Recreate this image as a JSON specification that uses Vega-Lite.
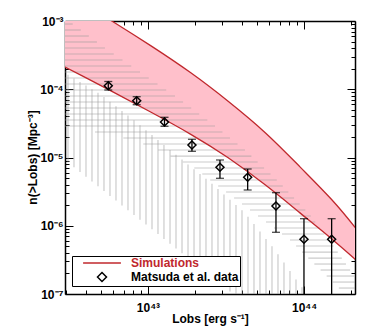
{
  "$schema": "https://vega.github.io/schema/vega-lite/v6.json",
  "width": 290,
  "height": 273,
  "autosize": "none",
  "padding": {"left": 65, "top": 21, "right": 19, "bottom": 42},
  "background": "white",
  "config": {"view": {"stroke": null}, "font": "Liberation Sans"},
  "datasets": {
    "band": [
      {"L": 2.189e42, "upper": 3.99e-3, "lower": 2.968e-4},
      {"L": 2.94e42, "upper": 2.66e-3, "lower": 2.118e-4},
      {"L": 3.948e42, "upper": 1.745e-3, "lower": 1.497e-4},
      {"L": 5.88e42, "upper": 1.0e-3, "lower": 9.30e-5},
      {"L": 1.03e43, "upper": 4.45e-4, "lower": 4.705e-5},
      {"L": 1.913e43, "upper": 1.73e-4, "lower": 2.173e-5},
      {"L": 3.207e43, "upper": 6.958e-5, "lower": 1.041e-5},
      {"L": 5.784e43, "upper": 2.286e-5, "lower": 3.862e-6},
      {"L": 9.413e43, "upper": 7.257e-6, "lower": 1.538e-6},
      {"L": 1.532e44, "upper": 2.384e-6, "lower": 6.268e-7},
      {"L": 2.12e44, "upper": 9.588e-7, "lower": 3.257e-7},
      {"L": 3.064e44, "upper": 3.2e-7, "lower": 1.525e-7}
    ],
    "hlines": [
      {"n": 9.037e-4, "L1": 2.94e42, "L2": 3.293e42},
      {"n": 7.381e-4, "L1": 2.94e42, "L2": 3.711e42},
      {"n": 6.028e-4, "L1": 2.94e42, "L2": 4.177e42},
      {"n": 4.924e-4, "L1": 2.94e42, "L2": 4.707e42},
      {"n": 4.022e-4, "L1": 2.94e42, "L2": 5.303e42},
      {"n": 3.285e-4, "L1": 2.94e42, "L2": 6.033e42},
      {"n": 2.683e-4, "L1": 2.94e42, "L2": 6.866e42},
      {"n": 2.191e-4, "L1": 2.94e42, "L2": 7.81e42},
      {"n": 1.79e-4, "L1": 2.94e42, "L2": 8.887e42},
      {"n": 1.462e-4, "L1": 2.94e42, "L2": 1.011e43},
      {"n": 1.194e-4, "L1": 2.94e42, "L2": 1.1505e43},
      {"n": 9.75e-5, "L1": 2.94e42, "L2": 1.309e43},
      {"n": 7.963e-5, "L1": 2.94e42, "L2": 1.49e43},
      {"n": 6.503e-5, "L1": 2.94e42, "L2": 1.678e43},
      {"n": 5.311e-5, "L1": 2.94e42, "L2": 1.891e43},
      {"n": 4.338e-5, "L1": 2.94e42, "L2": 2.128e43},
      {"n": 3.543e-5, "L1": 2.94e42, "L2": 2.399e43},
      {"n": 2.893e-5, "L1": 2.94e42, "L2": 2.687e43},
      {"n": 2.363e-5, "L1": 4.576e42, "L2": 3.001e43},
      {"n": 1.93e-5, "L1": 6.948e42, "L2": 3.352e43},
      {"n": 1.576e-5, "L1": 9.331e42, "L2": 3.745e43},
      {"n": 1.287e-5, "L1": 1.1625e43, "L2": 4.182e43},
      {"n": 1.051e-5, "L1": 1.3936e43, "L2": 4.597e43},
      {"n": 8.59e-6, "L1": 1.671e43, "L2": 5.044e43},
      {"n": 7.016e-6, "L1": 1.98e43, "L2": 5.543e43},
      {"n": 5.73e-6, "L1": 2.228e43, "L2": 6.093e43},
      {"n": 4.68e-6, "L1": 2.503e43, "L2": 6.685e43},
      {"n": 3.822e-6, "L1": 2.816e43, "L2": 7.304e43},
      {"n": 3.121e-6, "L1": 3.164e43, "L2": 7.932e43},
      {"n": 2.549e-6, "L1": 3.561e43, "L2": 8.63e43},
      {"n": 2.082e-6, "L1": 4.001e43, "L2": 9.372e43},
      {"n": 1.7e-6, "L1": 4.502e43, "L2": 1.018e44},
      {"n": 1.389e-6, "L1": 5.067e43, "L2": 1.104e44},
      {"n": 1.134e-6, "L1": 5.702e43, "L2": 1.18e44},
      {"n": 9.263e-7, "L1": 6.415e43, "L2": 1.261e44},
      {"n": 7.565e-7, "L1": 7.217e43, "L2": 1.349e44},
      {"n": 6.178e-7, "L1": 8.121e43, "L2": 1.442e44},
      {"n": 5.046e-7, "L1": 8.887e43, "L2": 1.543e44},
      {"n": 4.121e-7, "L1": 9.723e43, "L2": 1.644e44},
      {"n": 3.365e-7, "L1": 1.064e44, "L2": 1.746e44},
      {"n": 2.749e-7, "L1": 1.164e44, "L2": 1.855e44},
      {"n": 2.245e-7, "L1": 1.276e44, "L2": 1.973e44},
      {"n": 1.833e-7, "L1": 1.396e44, "L2": 2.097e44},
      {"n": 1.497e-7, "L1": 1.528e44, "L2": 2.12e44},
      {"n": 1.223e-7, "L1": 1.671e44, "L2": 2.12e44}
    ],
    "vlines": [
      {"L": 3.073e42, "n1": 1.628e-4, "n2": 8.477e-6},
      {"L": 3.357e42, "n1": 1.4425e-4, "n2": 7.209e-6},
      {"L": 3.668e42, "n1": 1.277e-4, "n2": 6.13e-6},
      {"L": 4.007e42, "n1": 1.131e-4, "n2": 5.233e-6},
      {"L": 4.378e42, "n1": 1.0017e-4, "n2": 4.45e-6},
      {"L": 4.783e42, "n1": 8.872e-5, "n2": 3.784e-6},
      {"L": 5.226e42, "n1": 7.673e-5, "n2": 3.219e-6},
      {"L": 5.709e42, "n1": 6.571e-5, "n2": 2.738e-6},
      {"L": 6.237e42, "n1": 5.625e-5, "n2": 2.336e-6},
      {"L": 6.815e42, "n1": 4.817e-5, "n2": 1.987e-6},
      {"L": 7.445e42, "n1": 4.125e-5, "n2": 1.69e-6},
      {"L": 8.135e42, "n1": 3.508e-5, "n2": 1.438e-6},
      {"L": 8.887e42, "n1": 2.968e-5, "n2": 1.222e-6},
      {"L": 9.711e42, "n1": 2.512e-5, "n2": 1.04e-6},
      {"L": 1.061e43, "n1": 2.129e-5, "n2": 8.872e-7},
      {"L": 1.159e43, "n1": 1.798e-5, "n2": 7.545e-7},
      {"L": 1.266e43, "n1": 1.525e-5, "n2": 6.417e-7},
      {"L": 1.384e43, "n1": 1.288e-5, "n2": 5.457e-7},
      {"L": 1.512e43, "n1": 1.095e-5, "n2": 4.642e-7},
      {"L": 1.652e43, "n1": 9.317e-6, "n2": 3.961e-7},
      {"L": 1.805e43, "n1": 7.923e-6, "n2": 3.369e-7},
      {"L": 1.972e43, "n1": 6.739e-6, "n2": 2.866e-7},
      {"L": 2.154e43, "n1": 5.731e-6, "n2": 2.437e-7},
      {"L": 2.353e43, "n1": 4.874e-6, "n2": 2.073e-7},
      {"L": 2.571e43, "n1": 4.118e-6, "n2": 1.768e-7},
      {"L": 2.809e43, "n1": 3.443e-6, "n2": 1.504e-7},
      {"L": 3.069e43, "n1": 2.879e-6, "n2": 1.279e-7},
      {"L": 3.353e43, "n1": 2.409e-6, "n2": 1.088e-7},
      {"L": 3.663e43, "n1": 2.014e-6, "n2": 1e-7},
      {"L": 4.002e43, "n1": 1.684e-6, "n2": 1e-7},
      {"L": 4.373e43, "n1": 1.357e-6, "n2": 1e-7},
      {"L": 4.777e43, "n1": 1.057e-6, "n2": 1e-7},
      {"L": 5.219e43, "n1": 8.236e-7, "n2": 1e-7},
      {"L": 5.703e43, "n1": 6.417e-7, "n2": 1e-7},
      {"L": 6.23e43, "n1": 5.0e-7, "n2": 1e-7},
      {"L": 6.807e43, "n1": 3.829e-7, "n2": 1e-7},
      {"L": 7.436e43, "n1": 2.884e-7, "n2": 1e-7},
      {"L": 8.125e43, "n1": 2.172e-7, "n2": 1e-7},
      {"L": 8.877e43, "n1": 1.637e-7, "n2": 1e-7},
      {"L": 9.7e43, "n1": 1.256e-7, "n2": 1e-7}
    ],
    "points": [
      {"L": 5.567e42, "n": 1.127e-4, "hi": 1.299e-4, "lo": 9.75e-5, "series": "Matsuda et al. data"},
      {"L": 8.465e42, "n": 6.797e-5, "hi": 7.777e-5, "lo": 5.937e-5, "series": "Matsuda et al. data"},
      {"L": 1.276e43, "n": 3.312e-5, "hi": 3.882e-5, "lo": 2.866e-5, "series": "Matsuda et al. data"},
      {"L": 1.913e43, "n": 1.525e-5, "hi": 1.848e-5, "lo": 1.232e-5, "series": "Matsuda et al. data"},
      {"L": 2.892e43, "n": 7.184e-6, "hi": 9.192e-6, "lo": 4.957e-6, "series": "Matsuda et al. data"},
      {"L": 4.352e43, "n": 5.127e-6, "hi": 6.783e-6, "lo": 3.341e-6, "series": "Matsuda et al. data"},
      {"L": 6.607e43, "n": 1.947e-6, "hi": 3.05e-6, "lo": 8.017e-7, "series": "Matsuda et al. data"},
      {"L": 9.986e43, "n": 6.331e-7, "hi": 1.269e-6, "lo": 1e-8, "series": "Matsuda et al. data"},
      {"L": 1.502e44, "n": 6.331e-7, "hi": 1.269e-6, "lo": 1e-8, "series": "Matsuda et al. data"}
    ]
  },
  "resolve": {"axis": {"x": "independent", "y": "independent"}},
  "layer": [
    {
      "data": {"name": "band"},
      "mark": {"type": "area", "color": "#ffc0cb", "opacity": 1, "clip": true, "interpolate": "basis"},
      "encoding": {
        "x": {"field": "L", "type": "quantitative", "scale": {"type": "log", "domain": [2.94e42, 2.12e44], "nice": false},
          "axis": {"orient": "top", "title": null, "labels": false, "grid": false,
            "values": [3e42,4e42,5e42,6e42,7e42,8e42,9e42,1e43,2e43,3e43,4e43,5e43,6e43,7e43,8e43,9e43,1e44,2e44],
            "tickSize": {"condition": {"test": "datum.value == 1e43 || datum.value == 1e44", "value": -8}, "value": -4},
            "tickColor": "black", "tickWidth": 1, "domainColor": "black", "domainWidth": 1.5}},
        "y": {"field": "upper", "type": "quantitative", "scale": {"type": "log", "domain": [1e-7, 1e-3], "nice": false},
          "axis": {"orient": "right", "title": null, "labels": false, "grid": false,
            "values": [1e-7,2e-7,3e-7,4e-7,5e-7,6e-7,7e-7,8e-7,9e-7,1e-6,2e-6,3e-6,4e-6,5e-6,6e-6,7e-6,8e-6,9e-6,1e-5,2e-5,3e-5,4e-5,5e-5,6e-5,7e-5,8e-5,9e-5,1e-4,2e-4,3e-4,4e-4,5e-4,6e-4,7e-4,8e-4,9e-4,1e-3],
            "tickSize": {"condition": {"test": "datum.value == 1e-3 || datum.value == 1e-4 || datum.value == 1e-5 || datum.value == 1e-6 || datum.value == 1e-7", "value": -8}, "value": -4},
            "tickColor": "black", "tickWidth": 1, "domainColor": "black", "domainWidth": 1.5}},
        "y2": {"field": "lower"}
      }
    },
    {
      "data": {"name": "hlines"},
      "mark": {"type": "rule", "color": "#999999", "opacity": 0.5, "strokeWidth": 1.2, "clip": true},
      "encoding": {
        "x": {"field": "L1", "type": "quantitative", "scale": {"type": "log", "domain": [2.94e42, 2.12e44], "nice": false}, "axis": null},
        "x2": {"field": "L2"},
        "y": {"field": "n", "type": "quantitative", "scale": {"type": "log", "domain": [1e-7, 1e-3], "nice": false}, "axis": null}
      }
    },
    {
      "data": {"name": "vlines"},
      "mark": {"type": "rule", "color": "#999999", "opacity": 0.5, "strokeWidth": 1.2, "clip": true},
      "encoding": {
        "x": {"field": "L", "type": "quantitative", "scale": {"type": "log", "domain": [2.94e42, 2.12e44], "nice": false}, "axis": null},
        "y": {"field": "n1", "type": "quantitative", "scale": {"type": "log", "domain": [1e-7, 1e-3], "nice": false}, "axis": null},
        "y2": {"field": "n2"}
      }
    },
    {
      "data": {"name": "band"},
      "mark": {"type": "line", "color": "#c0282d", "strokeWidth": 1.3, "clip": true, "interpolate": "basis"},
      "encoding": {
        "x": {"field": "L", "type": "quantitative", "scale": {"type": "log", "domain": [2.94e42, 2.12e44], "nice": false}, "axis": null},
        "y": {"field": "upper", "type": "quantitative", "scale": {"type": "log", "domain": [1e-7, 1e-3], "nice": false}, "axis": null}
      }
    },
    {
      "data": {"name": "band"},
      "mark": {"type": "line", "color": "#c0282d", "strokeWidth": 1.3, "clip": true, "interpolate": "basis"},
      "encoding": {
        "x": {"field": "L", "type": "quantitative", "scale": {"type": "log", "domain": [2.94e42, 2.12e44], "nice": false}, "axis": null},
        "y": {"field": "lower", "type": "quantitative", "scale": {"type": "log", "domain": [1e-7, 1e-3], "nice": false}, "axis": null}
      }
    },
    {
      "data": {"name": "points"},
      "mark": {"type": "rule", "color": "black", "strokeWidth": 1.3, "clip": true},
      "encoding": {
        "x": {"field": "L", "type": "quantitative", "scale": {"type": "log", "domain": [2.94e42, 2.12e44], "nice": false}, "axis": null},
        "y": {"field": "hi", "type": "quantitative", "scale": {"type": "log", "domain": [1e-7, 1e-3], "nice": false}, "axis": null},
        "y2": {"field": "lo"}
      }
    },
    {
      "data": {"name": "points"},
      "mark": {"type": "tick", "orient": "horizontal", "color": "black", "size": 8, "thickness": 1.3, "clip": true},
      "encoding": {
        "x": {"field": "L", "type": "quantitative", "scale": {"type": "log", "domain": [2.94e42, 2.12e44], "nice": false}, "axis": null},
        "y": {"field": "hi", "type": "quantitative", "scale": {"type": "log", "domain": [1e-7, 1e-3], "nice": false}, "axis": null}
      }
    },
    {
      "data": {"name": "points"},
      "mark": {"type": "tick", "orient": "horizontal", "color": "black", "size": 8, "thickness": 1.3, "clip": true},
      "encoding": {
        "x": {"field": "L", "type": "quantitative", "scale": {"type": "log", "domain": [2.94e42, 2.12e44], "nice": false}, "axis": null},
        "y": {"field": "lo", "type": "quantitative", "scale": {"type": "log", "domain": [1e-7, 1e-3], "nice": false}, "axis": null}
      }
    },
    {
      "data": {"name": "points"},
      "mark": {"type": "point", "filled": false, "size": 64, "strokeWidth": 1.5, "opacity": 1},
      "encoding": {
        "x": {"field": "L", "type": "quantitative", "scale": {"type": "log", "domain": [2.94e42, 2.12e44], "nice": false},
          "axis": {"orient": "bottom", "grid": false,
            "values": [3e42,4e42,5e42,6e42,7e42,8e42,9e42,1e43,2e43,3e43,4e43,5e43,6e43,7e43,8e43,9e43,1e44,2e44],
            "labelExpr": "datum.value == 1e43 ? '10⁴³' : datum.value == 1e44 ? '10⁴⁴' : ''",
            "tickSize": {"condition": {"test": "datum.value == 1e43 || datum.value == 1e44", "value": -8}, "value": -4},
            "tickColor": "black", "tickWidth": 1, "domainColor": "black", "domainWidth": 1.5,
            "labelFont": "Liberation Sans", "labelFontWeight": "bold", "labelFontSize": 12, "labelColor": "black",
            "labelPadding": 16, "labelFlush": false, "labelOverlap": false,
            "title": "Lobs [erg s⁻¹]", "titleFont": "Liberation Sans", "titleFontWeight": "bold", "titleFontSize": 12, "titleColor": "black",
            "titleX": 145, "titleY": 24, "titleBaseline": "middle", "titleAlign": "center"}},
        "y": {"field": "n", "type": "quantitative", "scale": {"type": "log", "domain": [1e-7, 1e-3], "nice": false},
          "axis": {"orient": "left", "grid": false,
            "values": [1e-7,2e-7,3e-7,4e-7,5e-7,6e-7,7e-7,8e-7,9e-7,1e-6,2e-6,3e-6,4e-6,5e-6,6e-6,7e-6,8e-6,9e-6,1e-5,2e-5,3e-5,4e-5,5e-5,6e-5,7e-5,8e-5,9e-5,1e-4,2e-4,3e-4,4e-4,5e-4,6e-4,7e-4,8e-4,9e-4,1e-3],
            "labelExpr": "datum.value == 1e-3 ? '10⁻³' : datum.value == 1e-4 ? '10⁻⁴' : datum.value == 1e-5 ? '10⁻⁵' : datum.value == 1e-6 ? '10⁻⁶' : datum.value == 1e-7 ? '10⁻⁷' : ''",
            "tickSize": {"condition": {"test": "datum.value == 1e-3 || datum.value == 1e-4 || datum.value == 1e-5 || datum.value == 1e-6 || datum.value == 1e-7", "value": -8}, "value": -4},
            "tickColor": "black", "tickWidth": 1, "domainColor": "black", "domainWidth": 1.5,
            "labelFont": "Liberation Sans", "labelFontWeight": "bold", "labelFontSize": 12, "labelColor": "black",
            "labelPadding": 10, "labelFlush": false, "labelOverlap": false,
            "title": "n(>Lobs) [Mpc⁻³]", "titleFont": "Liberation Sans", "titleFontWeight": "bold", "titleFontSize": 12, "titleColor": "black",
            "titleX": -33, "titleY": 136, "titleBaseline": "middle", "titleAlign": "center", "titleAngle": -90}},
        "color": {"field": "series", "type": "nominal",
          "scale": {"domain": ["Simulations", "Matsuda et al. data"], "range": ["#c0282d", "black"]},
          "legend": {"title": null, "orient": "none", "legendX": 7, "legendY": 235,
            "padding": 1, "strokeColor": "black", "fillColor": "white", "cornerRadius": 0,
            "symbolSize": 81, "symbolStrokeWidth": 1.5, "symbolOffset": 23,
            "labelFont": "Liberation Sans", "labelFontSize": 12, "labelFontWeight": "bold", "labelOffset": 23,
            "labelColor": {"expr": "datum.label === 'Simulations' ? '#c0282d' : 'black'"},
            "rowPadding": 0}},
        "shape": {"field": "series", "type": "nominal",
          "scale": {"domain": ["Simulations", "Matsuda et al. data"], "range": ["M-4.2,0H4.2", "diamond"]},
          "legend": {"title": null, "orient": "none", "legendX": 7, "legendY": 235,
            "padding": 1, "strokeColor": "black", "fillColor": "white", "cornerRadius": 0,
            "symbolSize": 81, "symbolStrokeWidth": 1.5, "symbolOffset": 23,
            "labelFont": "Liberation Sans", "labelFontSize": 12, "labelFontWeight": "bold", "labelOffset": 23,
            "labelColor": {"expr": "datum.label === 'Simulations' ? '#c0282d' : 'black'"},
            "rowPadding": 0}}
      }
    }
  ]
}
